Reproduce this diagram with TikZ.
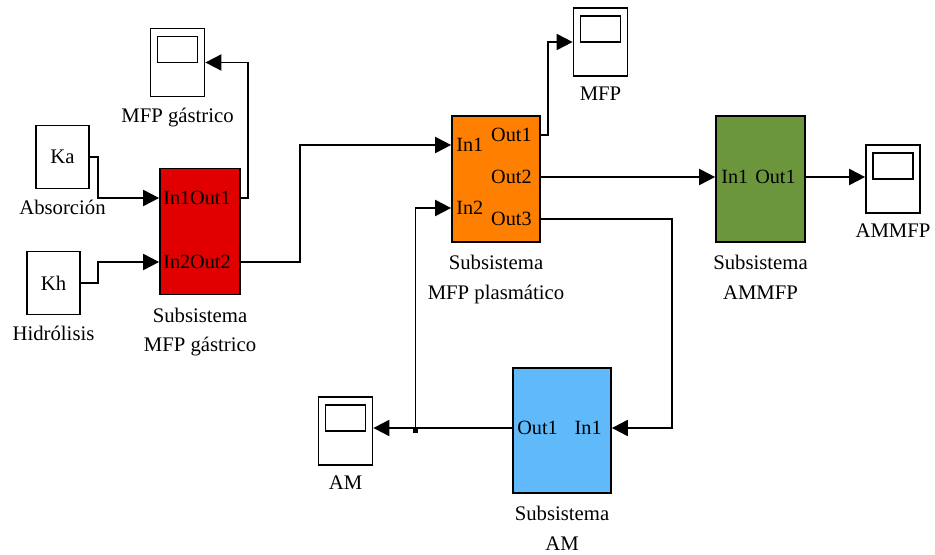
\documentclass[tikz,border=0pt]{standalone}
\usepackage{fontspec}
\setmainfont{Liberation Serif}
\usetikzlibrary{arrows.meta,positioning}

\definecolor{gastred}{RGB}{224,0,0}
\definecolor{plasorange}{RGB}{255,128,0}
\definecolor{ammgreen}{RGB}{108,150,60}
\definecolor{amblue}{RGB}{96,186,250}

\tikzset{
  const/.style={draw, line width=1pt, minimum width=1.06cm, minimum height=1.26cm, inner sep=0},
  subsys/.style={draw, line width=1pt, minimum height=2.52cm, inner sep=0},
  scopebox/.style={draw, line width=1pt, minimum width=1.08cm, minimum height=1.36cm, inner sep=0,
    path picture={\draw[line width=1pt] ([xshift=-0.4cm,yshift=-0.16cm]path picture bounding box.north)
      rectangle ([xshift=0.4cm,yshift=-0.68cm]path picture bounding box.north);}},
  lbl/.style={inner sep=0, align=center},
  port/.style={inner sep=0, font=\fontsize{11.5}{14}\selectfont},
  sig/.style={line width=1.1pt, -{Triangle[length=0.32cm,width=0.32cm]}}
}

\begin{document}
\begin{tikzpicture}[x=0.02cm, y=-0.02cm, font=\fontsize{11.8}{17}\selectfont]
        \useasboundingbox (0,0) rectangle (935,554);

        % Nodes
        \node[const] (ka) at (62.5,157) {Ka};
        \node[lbl, below=0.2cm of ka] (ka-lbl) {Absorción};
        \node[const] (kh) at (53.5,283) {Kh};
        \node[lbl, below=0.2cm of kh] (kh-lbl) {Hidrólisis};

        \node[subsys, fill=gastred, minimum width=1.6cm] (gast) at (200,231.5) {};
        \node[lbl, below=0.24cm of gast] (gast-lbl) {Subsistema\\MFP gástrico};
        \node[port, anchor=west] (gast-in1) at (163,198) {In1};
        \node[port, anchor=east] (gast-out1) at (231,198) {Out1};
        \node[port, anchor=west] (gast-in2) at (163,262) {In2};
        \node[port, anchor=east] (gast-out2) at (231,262) {Out2};

        \node[subsys, fill=plasorange, minimum width=1.76cm] (plas) at (496,179) {};
        \node[lbl, below=0.24cm of plas] (plas-lbl) {Subsistema\\MFP plasmático};
        \node[port, anchor=west] (plas-in1) at (456,145) {In1};
        \node[port, anchor=west] (plas-in2) at (456,208) {In2};
        \node[port, anchor=east] (plas-out1) at (532,135) {Out1};
        \node[port, anchor=east] (plas-out2) at (532,177) {Out2};
        \node[port, anchor=east] (plas-out3) at (532,219) {Out3};

        \node[subsys, fill=ammgreen, minimum width=1.78cm] (ammfp) at (760.5,179) {};
        \node[lbl, below=0.24cm of ammfp] (ammfp-lbl) {Subsistema\\AMMFP};
        \node[port, anchor=west] (ammfp-in1) at (721,177) {In1};
        \node[port, anchor=east] (ammfp-out1) at (796,177) {Out1};

        \node[subsys, fill=amblue, minimum width=1.96cm, minimum height=2.5cm] (am) at (562,430.5) {};
        \node[lbl, below=0.24cm of am] (am-lbl) {Subsistema\\AM};
        \node[port, anchor=west] (am-out1) at (517,428) {Out1};
        \node[port, anchor=east] (am-in1) at (602,428) {In1};

        \node[scopebox] (sc-gast) at (177.5,62.5) {};
        \node[lbl, below=0.2cm of sc-gast] {MFP gástrico};
        \node[scopebox] (sc-mfp) at (600.5,42) {};
        \node[lbl, below=0.2cm of sc-mfp] {MFP};
        \node[scopebox] (sc-ammfp) at (893,179) {};
        \node[lbl, below=0.2cm of sc-ammfp] {AMMFP};
        \node[scopebox] (sc-am) at (345.5,431) {};
        \node[lbl, below=0.2cm of sc-am] {AM};

        \node[fill, inner sep=0, minimum size=0.1cm] (branch) at (415.5,430) {};

        % Edges
        \draw[sig] (ka.east) -- ++(8,0) |- (gast-in1 -| gast.west);
        \draw[sig] (kh.east) -- ++(17,0) |- (gast-in2 -| gast.west);
        \draw[sig] (gast-out1 -| gast.east) -- ++(7,0) |- (sc-gast.east);
        \draw[sig] (gast-out2 -| gast.east) -- ++(59,0) |- (plas-in1 -| plas.west);
        \draw[sig] (plas-out1 -| plas.east) -- ++(7,0) |- (sc-mfp.west);
        \draw[sig] (plas-out2 -| plas.east) -- (ammfp-in1 -| ammfp.west);
        \draw[sig] (ammfp-out1 -| ammfp.east) -- (ammfp-out1 -| sc-ammfp.west);
        \draw[sig] (plas-out3 -| plas.east) -- ++(131,0) |- (am-in1 -| am.east);
        \draw[sig] (am-out1 -| am.west) -- (am-out1 -| sc-am.east);
        \draw[sig] (branch.center) |- (plas-in2 -| plas.west);
    \end{tikzpicture}
\end{document}
